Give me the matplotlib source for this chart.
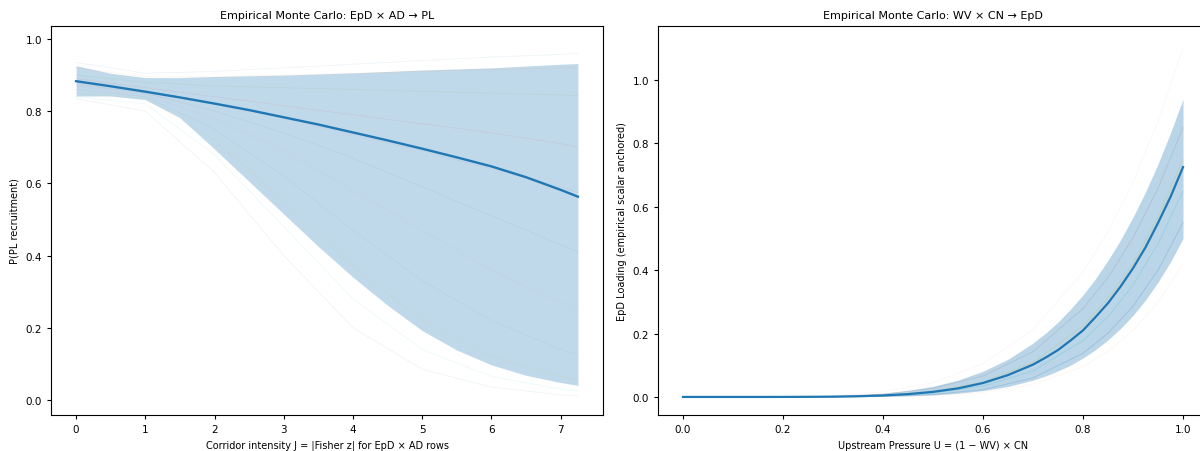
import matplotlib.pyplot as plt

# --- left panel: EpD x AD -> PL ---
j_grid = [0, 0.5, 1, 1.5, 2, 2.5, 3, 3.5, 4, 4.5, 5, 5.5, 6, 6.5, 7, 7.25]
pl_median = [0.883, 0.869, 0.854, 0.838, 0.821, 0.803, 0.783, 0.763, 0.741,
             0.719, 0.696, 0.672, 0.647, 0.617, 0.582, 0.563]
pl_upper = [0.926, 0.905, 0.893, 0.893, 0.896, 0.898, 0.900, 0.903, 0.906,
            0.910, 0.914, 0.917, 0.920, 0.925, 0.930, 0.932]
pl_lower = [0.842, 0.842, 0.832, 0.782, 0.695, 0.605, 0.515, 0.425, 0.340,
            0.262, 0.192, 0.138, 0.097, 0.068, 0.048, 0.040]

j_samp = [0, 1, 2, 3, 4, 5, 6, 7, 7.25]
pl_samples = [
    [0.935, 0.905, 0.910, 0.920, 0.930, 0.940, 0.950, 0.957, 0.960],
    [0.920, 0.895, 0.895, 0.900, 0.905, 0.910, 0.915, 0.920, 0.922],
    [0.900, 0.880, 0.870, 0.865, 0.860, 0.855, 0.850, 0.845, 0.843],
    [0.890, 0.865, 0.840, 0.815, 0.790, 0.765, 0.740, 0.710, 0.700],
    [0.880, 0.855, 0.820, 0.780, 0.735, 0.690, 0.640, 0.590, 0.575],
    [0.875, 0.850, 0.800, 0.740, 0.670, 0.590, 0.510, 0.430, 0.410],
    [0.870, 0.845, 0.780, 0.690, 0.580, 0.470, 0.360, 0.270, 0.250],
    [0.860, 0.840, 0.750, 0.620, 0.470, 0.330, 0.220, 0.140, 0.125],
    [0.850, 0.835, 0.720, 0.550, 0.370, 0.220, 0.120, 0.065, 0.056],
    [0.840, 0.820, 0.680, 0.480, 0.280, 0.140, 0.065, 0.030, 0.025],
    [0.835, 0.800, 0.630, 0.400, 0.200, 0.085, 0.035, 0.014, 0.011],
]

# --- right panel: WV x CN -> EpD ---
u_grid = [0, 0.05, 0.1, 0.15, 0.2, 0.25, 0.3, 0.35, 0.4, 0.45, 0.5,
          0.55, 0.6, 0.65, 0.7, 0.725, 0.75, 0.775, 0.8, 0.825, 0.85,
          0.875, 0.9, 0.925, 0.95, 0.975, 1.0]
epd_median = [0, 0, 0, 0, 0.0001, 0.0004, 0.0009, 0.0023, 0.0047, 0.0089, 0.016,
              0.027, 0.044, 0.069, 0.102, 0.124, 0.148, 0.178, 0.21, 0.252, 0.296,
              0.348, 0.406, 0.472, 0.549, 0.631, 0.725]
epd_upper = [0, 0, 0, 0.0001, 0.0004, 0.0012, 0.0029, 0.0061, 0.0116, 0.0204, 0.0337,
             0.053, 0.081, 0.119, 0.170, 0.201, 0.236, 0.277, 0.322, 0.373, 0.431,
             0.495, 0.567, 0.647, 0.735, 0.833, 0.94]
epd_lower = [0, 0, 0, 0, 0, 0, 0.0003, 0.0007, 0.0016, 0.0033, 0.0063,
             0.0116, 0.020, 0.033, 0.053, 0.066, 0.082, 0.100, 0.123, 0.149, 0.180,
             0.216, 0.257, 0.306, 0.362, 0.426, 0.50]

u_samp = [0, 0.1, 0.2, 0.3, 0.4, 0.5, 0.6, 0.7, 0.8, 0.85, 0.9, 0.95, 1.0]
epd_samples = [
    [0, 0, 0, 0.004, 0.016, 0.045, 0.105, 0.213, 0.394, 0.521, 0.677, 0.869, 1.10],
    [0, 0, 0, 0.002, 0.009, 0.027, 0.066, 0.143, 0.279, 0.377, 0.502, 0.658, 0.85],
    [0, 0, 0, 0.001, 0.005, 0.018, 0.047, 0.109, 0.224, 0.312, 0.420, 0.568, 0.75],
    [0, 0, 0, 0.001, 0.003, 0.012, 0.034, 0.082, 0.178, 0.253, 0.353, 0.483, 0.65],
    [0, 0, 0, 0, 0.002, 0.0075, 0.023, 0.060, 0.138, 0.201, 0.286, 0.400, 0.55],
    [0, 0, 0, 0, 0.001, 0.0043, 0.014, 0.040, 0.096, 0.144, 0.210, 0.299, 0.42],
]

cycle = ['#1f77b4', '#ff7f0e', '#2ca02c', '#d62728', '#9467bd',
         '#8c564b', '#e377c2', '#7f7f7f', '#bcbd22', '#17becf']

plt.rcParams['font.family'] = 'DejaVu Sans'
plt.rcParams['font.size'] = 7.5

fig = plt.figure(figsize=(12, 4.52), dpi=100)
ax1 = fig.add_axes([0.0425, 0.0796, 0.46, 0.8607])
ax2 = fig.add_axes([0.5483, 0.0796, 0.4584, 0.8607])

# left
for i, s in enumerate(pl_samples):
    ax1.plot(j_samp, s, color=cycle[i % 10], alpha=0.08, lw=0.6)
ax1.fill_between(j_grid, pl_lower, pl_upper, color='#1f77b4', alpha=0.28, lw=0)
ax1.plot(j_grid, pl_median, color='#1f77b4', lw=1.7)
ax1.set_xlim(-0.3625, 7.6125)
ax1.set_ylim(-0.042, 1.036)
ax1.set_yticks([0.0, 0.2, 0.4, 0.6, 0.8, 1.0])
ax1.set_title('Empirical Monte Carlo: EpD × AD → PL', fontsize=8)
ax1.set_xlabel('Corridor intensity J = |Fisher z| for EpD × AD rows', fontsize=7)
ax1.set_ylabel('P(PL recruitment)', fontsize=7)

# right
for i, s in enumerate(epd_samples):
    a = 0.06 if i in (0, 5) else 0.2
    ax2.plot(u_samp, s, color=cycle[(i + 6) % 10], alpha=a, lw=0.7)
ax2.fill_between(u_grid, epd_lower, epd_upper, color='#1f77b4', alpha=0.3, lw=0)
ax2.plot(u_grid, epd_median, color='#1f77b4', lw=1.6)
ax2.set_xlim(-0.05, 1.05)
ax2.set_ylim(-0.057, 1.17)
ax2.set_title('Empirical Monte Carlo: WV × CN → EpD', fontsize=8)
ax2.set_xlabel('Upstream Pressure U = (1 − WV) × CN', fontsize=7)
ax2.set_ylabel('EpD Loading (empirical scalar anchored)', fontsize=7)

for ax in (ax1, ax2):
    ax.tick_params(labelsize=7.5, length=3)

fig.savefig('out.png', dpi=100)
